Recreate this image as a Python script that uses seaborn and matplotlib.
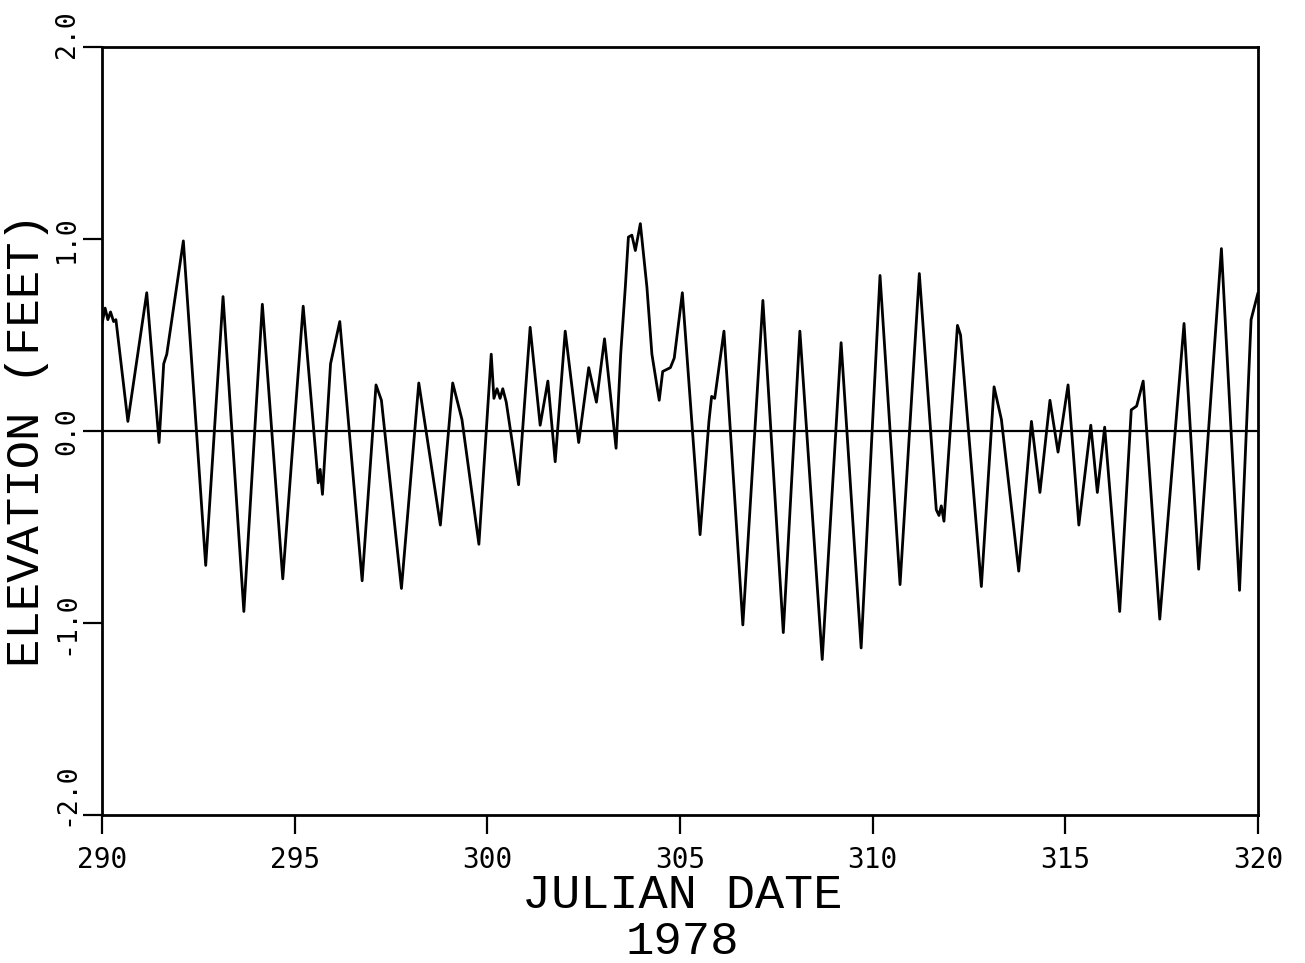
import matplotlib
matplotlib.use("Agg")
import matplotlib.pyplot as plt
import matplotlib.transforms as mtransforms
import seaborn as sns
import pandas as pd

# Digitized tidal elevation record (Julian date 1978, feet)
julian_day = [
    290.00, 290.08, 290.15, 290.22, 290.30, 290.36, 290.67, 291.16, 291.48, 291.60,
    291.68, 292.11, 292.69, 293.14, 293.68, 294.16, 294.69, 295.22, 295.61, 295.66,
    295.72, 295.93, 296.17, 296.75, 297.11, 297.25, 297.77, 298.22, 298.78, 299.10,
    299.34, 299.78, 300.10, 300.17, 300.25, 300.33, 300.40, 300.49, 300.81, 301.11,
    301.37, 301.57, 301.76, 302.02, 302.37, 302.63, 302.83, 303.04, 303.34, 303.46,
    303.58, 303.66, 303.75, 303.84, 303.97, 304.14, 304.27, 304.46, 304.55, 304.75,
    304.85, 305.06, 305.52, 305.75, 305.82, 305.90, 306.14, 306.63, 307.15, 307.68,
    308.11, 308.69, 309.18, 309.70, 310.19, 310.71, 311.21, 311.65, 311.72, 311.78,
    311.85, 312.20, 312.28, 312.82, 313.15, 313.34, 313.79, 314.12, 314.34, 314.60,
    314.81, 315.07, 315.35, 315.66, 315.83, 316.02, 316.41, 316.71, 316.85, 317.02,
    317.45, 318.08, 318.46, 319.05, 319.52, 319.82, 320.00,
]
elevation_ft = [
    0.56, 0.64, 0.58, 0.62, 0.57, 0.58, 0.05, 0.72, -0.06, 0.35,
    0.40, 0.99, -0.70, 0.70, -0.94, 0.66, -0.77, 0.65, -0.27, -0.20,
    -0.33, 0.35, 0.57, -0.78, 0.24, 0.16, -0.82, 0.25, -0.49, 0.25,
    0.06, -0.59, 0.40, 0.17, 0.22, 0.17, 0.22, 0.15, -0.28, 0.54,
    0.03, 0.26, -0.16, 0.52, -0.06, 0.33, 0.15, 0.48, -0.09, 0.40,
    0.75, 1.01, 1.02, 0.94, 1.08, 0.75, 0.40, 0.16, 0.31, 0.33,
    0.38, 0.72, -0.54, 0.05, 0.18, 0.17, 0.52, -1.01, 0.68, -1.05,
    0.52, -1.19, 0.46, -1.13, 0.81, -0.80, 0.82, -0.41, -0.44, -0.39,
    -0.47, 0.55, 0.50, -0.81, 0.23, 0.06, -0.73, 0.05, -0.32, 0.16,
    -0.11, 0.24, -0.49, 0.03, -0.32, 0.02, -0.94, 0.11, 0.13, 0.26,
    -0.98, 0.56, -0.72, 0.95, -0.83, 0.58, 0.72,
]
x_ticks = [290, 295, 300, 305, 310, 315, 320]
x_tick_labels = ["290", "295", "300", "305", "310", "315", "320"]
y_ticks = [-2.0, -1.0, 0.0, 1.0, 2.0]
y_tick_labels = ["-2.0", "-1.0", "0.0", "1.0", "2.0"]

df = pd.DataFrame({"day": julian_day, "elev": elevation_ft})

sns.set_theme(style="white")
plt.rcParams["font.family"] = ["DejaVu Sans Mono", "DejaVu Sans"]
plt.rcParams["text.color"] = "black"
plt.rcParams["xtick.color"] = "black"
plt.rcParams["ytick.color"] = "black"
plt.rcParams["axes.labelcolor"] = "black"

fig = plt.figure(figsize=(13.05, 9.63), dpi=100)
ax = fig.add_axes([0.0782, 0.1537, 0.8858, 0.7975])

sns.lineplot(data=df, x="day", y="elev", ax=ax, color="black", linewidth=2.0)
ax.axhline(0, color="black", linewidth=1.6)

ax.set_xlim(290, 320)
ax.set_ylim(-2, 2)
ax.set_xticks(x_ticks)
ax.set_xticklabels(x_tick_labels, fontsize=20)
ax.set_yticks(y_ticks)
ax.set_yticklabels(y_tick_labels, fontsize=19, rotation=90, va="center")

ax.tick_params(axis="both", direction="out", length=14, width=1.6, color="black",
               bottom=True, left=True)
ax.tick_params(axis="x", pad=8)
ax.tick_params(axis="y", pad=2)

# shift the end labels slightly upward as in the original plotter output
for lab, dy in ((ax.get_yticklabels()[0], 15), (ax.get_yticklabels()[-1], 9)):
    lab.set_transform(lab.get_transform() +
                      mtransforms.ScaledTranslation(0, dy / 72.0, fig.dpi_scale_trans))

for sp in ax.spines.values():
    sp.set_color("black")
    sp.set_linewidth(2.0)
    sp.set_visible(True)

ax.set_xlabel("")
ax.set_ylabel("")

label_font = ["Liberation Mono", "DejaVu Sans Mono"]
fig.text(0.0207, 0.543, "ELEVATION (FEET)", rotation=90, ha="center", va="center",
         fontsize=34, family=label_font)
fig.text(0.523, 0.0696, "JULIAN DATE", ha="center", va="center", fontsize=35,
         family=label_font)
fig.text(0.523, 0.0218, "1978", ha="center", va="center", fontsize=34,
         family=label_font)

fig.savefig("out.png", dpi=100, facecolor="white")
